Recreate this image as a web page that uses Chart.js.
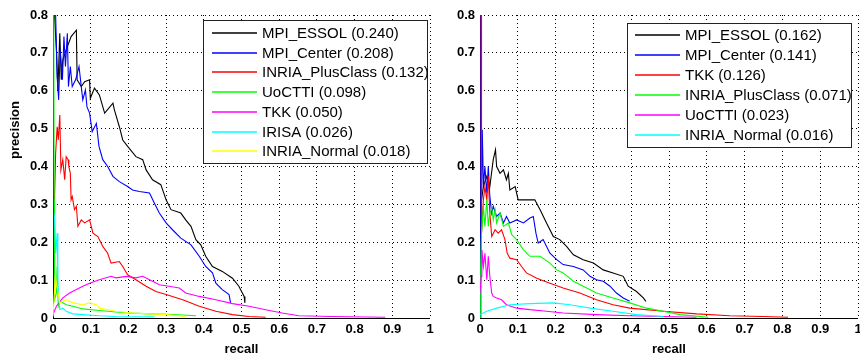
<!DOCTYPE html>
<html>
<head>
<meta charset="utf-8">
<script src="https://cdn.jsdelivr.net/npm/chart.js@4.4.1/dist/chart.umd.min.js"></script>
<style>
  html, body { margin: 0; padding: 0; background: #fff; overflow: hidden; }
  #wrap { position: relative; width: 860px; height: 357px; }
  #leftBox { position: absolute; left: 0; top: 0; width: 445px; height: 357px; }
  #rightBox { position: absolute; left: 430px; top: 0; width: 440px; height: 357px; }
</style>
</head>
<body>
<div id="wrap">
  <div id="leftBox"><canvas id="graficoEsq"></canvas></div>
  <div id="rightBox"><canvas id="graficoDir"></canvas></div>
</div>
<script>
// ---- left plot ----
const leftLabels = ['MPI_ESSOL (0.240)', 'MPI_Center (0.208)', 'INRIA_PlusClass (0.132)', 'UoCTTI (0.098)', 'TKK (0.050)', 'IRISA (0.026)', 'INRIA_Normal (0.018)'];
const leftColors = ['#000000', '#0000ff', '#ff0000', '#00ff00', '#ff00ff', '#00ffff', '#ffff00'];

const lEssolR = [0.004, 0.009, 0.013, 0.018, 0.022, 0.026, 0.035, 0.048, 0.062, 0.064, 0.075, 0.084, 0.097, 0.099, 0.110, 0.123, 0.137, 0.159, 0.163, 0.176, 0.185, 0.198, 0.220, 0.238, 0.247, 0.264, 0.286, 0.300, 0.313, 0.339, 0.352, 0.366, 0.379, 0.392, 0.405, 0.423, 0.449, 0.476, 0.493, 0.507, 0.509];
const lEssolP = [0.80, 0.708, 0.602, 0.752, 0.629, 0.681, 0.708, 0.743, 0.760, 0.629, 0.611, 0.624, 0.629, 0.580, 0.607, 0.589, 0.541, 0.567, 0.549, 0.505, 0.470, 0.453, 0.426, 0.418, 0.391, 0.365, 0.352, 0.312, 0.286, 0.277, 0.259, 0.242, 0.207, 0.193, 0.163, 0.136, 0.123, 0.105, 0.084, 0.057, 0.040];

const lCenterR = [0.007, 0.011, 0.015, 0.019, 0.025, 0.029, 0.033, 0.038, 0.041, 0.046, 0.051, 0.060, 0.069, 0.075, 0.079, 0.086, 0.090, 0.097, 0.104, 0.115, 0.122, 0.132, 0.145, 0.159, 0.176, 0.198, 0.211, 0.229, 0.256, 0.269, 0.282, 0.300, 0.317, 0.339, 0.366, 0.388, 0.405, 0.423, 0.432, 0.449, 0.467, 0.471];
const lCenterP = [0.80, 0.637, 0.576, 0.708, 0.629, 0.743, 0.664, 0.752, 0.611, 0.664, 0.611, 0.629, 0.664, 0.611, 0.576, 0.602, 0.558, 0.541, 0.492, 0.514, 0.453, 0.418, 0.400, 0.374, 0.360, 0.347, 0.338, 0.334, 0.330, 0.303, 0.277, 0.251, 0.233, 0.211, 0.193, 0.163, 0.136, 0.119, 0.092, 0.075, 0.062, 0.040];

const lPlusR = [0.004, 0.007, 0.011, 0.014, 0.018, 0.021, 0.026, 0.031, 0.035, 0.040, 0.042, 0.046, 0.048, 0.051, 0.057, 0.062, 0.066, 0.075, 0.084, 0.097, 0.106, 0.119, 0.132, 0.145, 0.154, 0.176, 0.185, 0.198, 0.220, 0.247, 0.273, 0.300, 0.344, 0.388, 0.432, 0.476, 0.520, 0.564];
const lPlusP = [0.312, 0.435, 0.505, 0.470, 0.536, 0.391, 0.418, 0.365, 0.426, 0.418, 0.400, 0.382, 0.312, 0.321, 0.286, 0.295, 0.242, 0.259, 0.251, 0.259, 0.224, 0.215, 0.189, 0.171, 0.145, 0.149, 0.136, 0.114, 0.101, 0.084, 0.070, 0.062, 0.048, 0.031, 0.018, 0.009, 0.004, 0.002];

const lUoR = [0.002, 0.003, 0.004, 0.009, 0.011, 0.014, 0.018, 0.026, 0.035, 0.053, 0.079, 0.123, 0.167, 0.211, 0.256, 0.300, 0.344, 0.379];
const lUoP = [0.80, 0.312, 0.048, 0.066, 0.136, 0.031, 0.044, 0.040, 0.035, 0.031, 0.024, 0.020, 0.016, 0.013, 0.011, 0.010, 0.008, 0.006];

const lTkkR = [0.000, 0.009, 0.026, 0.044, 0.062, 0.079, 0.097, 0.123, 0.154, 0.167, 0.194, 0.220, 0.238, 0.264, 0.282, 0.308, 0.335, 0.352, 0.388, 0.432, 0.476, 0.520, 0.564, 0.608, 0.652, 0.740, 0.881];
const lTkkP = [0.009, 0.031, 0.053, 0.066, 0.075, 0.084, 0.092, 0.101, 0.110, 0.106, 0.110, 0.106, 0.110, 0.097, 0.088, 0.084, 0.079, 0.066, 0.057, 0.048, 0.038, 0.031, 0.022, 0.013, 0.006, 0.004, 0.002];

const lIrisaR = [0.004, 0.007, 0.011, 0.013, 0.018, 0.026, 0.035, 0.053, 0.079, 0.123, 0.167, 0.269];
const lIrisaP = [0.273, 0.171, 0.224, 0.092, 0.022, 0.026, 0.018, 0.011, 0.009, 0.006, 0.004, 0.003];

const lNormR = [0.000, 0.006, 0.018, 0.035, 0.053, 0.079, 0.097, 0.115, 0.123, 0.167, 0.211, 0.256, 0.300, 0.352];
const lNormP = [0.004, 0.110, 0.040, 0.048, 0.040, 0.035, 0.040, 0.035, 0.026, 0.018, 0.013, 0.011, 0.009, 0.004];

// ---- right plot ----
const rightLabels = ['MPI_ESSOL (0.162)', 'MPI_Center (0.141)', 'TKK (0.126)', 'INRIA_PlusClass (0.071)', 'UoCTTI (0.023)', 'INRIA_Normal (0.016)'];
const rightColors = ['#000000', '#0000ff', '#ff0000', '#00ff00', '#ff00ff', '#00ffff'];

const rEssolR = [0.000, 0.004, 0.009, 0.018, 0.026, 0.035, 0.041, 0.044, 0.053, 0.062, 0.070, 0.075, 0.079, 0.093, 0.101, 0.123, 0.145, 0.159, 0.176, 0.194, 0.211, 0.229, 0.247, 0.273, 0.300, 0.326, 0.352, 0.379, 0.392, 0.414, 0.432, 0.439];
const rEssolP = [0.066, 0.312, 0.347, 0.374, 0.347, 0.418, 0.444, 0.400, 0.382, 0.391, 0.365, 0.382, 0.338, 0.347, 0.312, 0.312, 0.312, 0.286, 0.251, 0.215, 0.207, 0.189, 0.167, 0.154, 0.145, 0.127, 0.119, 0.110, 0.084, 0.070, 0.053, 0.044];

const rCenterR = [0.001, 0.002, 0.004, 0.006, 0.009, 0.013, 0.018, 0.022, 0.026, 0.031, 0.035, 0.044, 0.053, 0.062, 0.070, 0.079, 0.097, 0.115, 0.132, 0.141, 0.148, 0.154, 0.167, 0.185, 0.203, 0.220, 0.247, 0.273, 0.291, 0.308, 0.326, 0.344, 0.361, 0.379, 0.396];
const rCenterP = [0.000, 0.800, 0.312, 0.497, 0.347, 0.400, 0.330, 0.400, 0.321, 0.277, 0.295, 0.268, 0.277, 0.251, 0.268, 0.251, 0.259, 0.251, 0.264, 0.268, 0.224, 0.198, 0.207, 0.171, 0.154, 0.141, 0.136, 0.127, 0.110, 0.101, 0.097, 0.084, 0.066, 0.053, 0.044];

const rTkkR = [0.003, 0.004, 0.009, 0.013, 0.018, 0.022, 0.026, 0.031, 0.040, 0.048, 0.057, 0.066, 0.072, 0.079, 0.097, 0.110, 0.123, 0.150, 0.185, 0.220, 0.264, 0.308, 0.352, 0.396, 0.485, 0.573, 0.661, 0.749, 0.815];
const rTkkP = [0.800, 0.224, 0.312, 0.347, 0.312, 0.374, 0.277, 0.215, 0.233, 0.224, 0.233, 0.207, 0.171, 0.158, 0.154, 0.136, 0.119, 0.105, 0.092, 0.079, 0.066, 0.048, 0.035, 0.026, 0.018, 0.011, 0.006, 0.004, 0.002];

const rPlusR = [0.000, 0.002, 0.004, 0.009, 0.013, 0.018, 0.022, 0.026, 0.031, 0.035, 0.040, 0.044, 0.053, 0.062, 0.075, 0.084, 0.097, 0.115, 0.132, 0.159, 0.185, 0.203, 0.220, 0.247, 0.273, 0.308, 0.352, 0.396, 0.441, 0.485, 0.529, 0.604];
const rPlusP = [0.000, 0.136, 0.224, 0.295, 0.242, 0.312, 0.242, 0.277, 0.290, 0.259, 0.286, 0.251, 0.277, 0.242, 0.251, 0.220, 0.207, 0.180, 0.163, 0.163, 0.145, 0.127, 0.119, 0.097, 0.084, 0.066, 0.053, 0.040, 0.026, 0.018, 0.009, 0.002];

const rUoR = [0.000, 0.003, 0.005, 0.009, 0.013, 0.018, 0.022, 0.026, 0.031, 0.035, 0.044, 0.057, 0.070, 0.097, 0.132, 0.176, 0.220, 0.308, 0.396, 0.485, 0.573];
const rUoP = [0.066, 0.110, 0.180, 0.136, 0.171, 0.101, 0.163, 0.110, 0.066, 0.057, 0.053, 0.048, 0.035, 0.026, 0.022, 0.018, 0.013, 0.009, 0.006, 0.004, 0.002];

const rNormR = [0.000, 0.018, 0.044, 0.079, 0.132, 0.194, 0.238, 0.291, 0.352, 0.414, 0.485];
const rNormP = [0.009, 0.018, 0.026, 0.035, 0.038, 0.040, 0.035, 0.026, 0.018, 0.009, 0.004];

const xTicks = [0, 0.1, 0.2, 0.3, 0.4, 0.5, 0.6, 0.7, 0.8, 0.9, 1];
const yTicks = [0, 0.1, 0.2, 0.3, 0.4, 0.5, 0.6, 0.7, 0.8];

const FONT = 'Arial, "Liberation Sans", sans-serif';

function pares(rs, ps) {
  return rs.map((r, i) => ({ x: r, y: ps[i] }));
}

function montaDatasets(labels, colors, series) {
  return series.map((s, i) => ({
    label: labels[i],
    data: pares(s[0], s[1]),
    borderColor: colors[i],
    backgroundColor: colors[i],
    borderWidth: 1.1,
    pointRadius: 0,
    showLine: true,
    tension: 0,
    order: series.length - i
  }));
}

// legenda desenhada dentro da área (estilo MATLAB)
const legendaBox = {
  id: 'legendaBox',
  afterDraw(chart, args, opts) {
    const ctx = chart.ctx;
    const b = opts.box;
    ctx.save();
    ctx.setLineDash([]);
    ctx.fillStyle = '#fff';
    ctx.fillRect(b.x, b.y, b.w, b.h);
    ctx.strokeStyle = '#222';
    ctx.lineWidth = 1;
    ctx.strokeRect(b.x + 0.5, b.y + 0.5, b.w, b.h);
    ctx.font = '15px ' + FONT;
    ctx.textBaseline = 'middle';
    const cores = opts.colors;
    opts.labels.forEach((txt, i) => {
      const y = Math.round(b.y0 + i * b.step);
      ctx.strokeStyle = cores[i];
      ctx.lineWidth = 1.4;
      ctx.beginPath();
      ctx.moveTo(b.lx0, y);
      ctx.lineTo(b.lx1, y);
      ctx.stroke();
      ctx.fillStyle = '#000';
      ctx.fillText(txt, b.tx, y + 1);
    });
    ctx.restore();
  }
};

const tituloY = {
  id: 'tituloY',
  afterDraw(chart, args, opts) {
    if (!opts.text) return;
    const ctx = chart.ctx;
    ctx.save();
    ctx.translate(opts.x, opts.y);
    ctx.rotate(-Math.PI / 2);
    ctx.font = 'bold 13px ' + FONT;
    ctx.fillStyle = '#000';
    ctx.textAlign = 'center';
    ctx.textBaseline = 'middle';
    ctx.fillText(opts.text, 0, 0);
    ctx.restore();
  }
};

// eixos sólidos à esquerda e embaixo (a grade fica pontilhada)
const eixos = {
  id: 'eixos',
  beforeDatasetsDraw(chart) {
    const a = chart.chartArea;
    const ctx = chart.ctx;
    ctx.save();
    ctx.setLineDash([]);
    ctx.strokeStyle = '#000';
    ctx.lineWidth = 1;
    ctx.beginPath();
    ctx.moveTo(Math.round(a.left) + 0.5, a.top);
    ctx.lineTo(Math.round(a.left) + 0.5, Math.round(a.bottom) + 0.5);
    ctx.lineTo(a.right, Math.round(a.bottom) + 0.5);
    ctx.stroke();
    ctx.restore();
  }
};

function opcoes(yWidth, padRight, legenda, yTitle) {
  const fonteTick = { family: FONT, size: 13, weight: 'bold' };
  return {
    responsive: true,
    maintainAspectRatio: false,
    animation: false,
    layout: { padding: { top: 15, right: padRight, bottom: 0, left: 0 } },
    plugins: {
      legend: { display: false },
      tooltip: { enabled: false },
      legendaBox: legenda,
      tituloY: yTitle
    },
    scales: {
      x: {
        type: 'linear',
        min: 0, max: 1,
        afterBuildTicks: (s) => { s.ticks = xTicks.map(v => ({ value: v })); },
        afterFit: (s) => { s.height = 39; },
        ticks: { color: '#000', font: fonteTick, padding: 4, maxRotation: 0, callback: (v) => String(v) },
        grid: { color: '#000', lineWidth: 1, drawTicks: false },
        border: { display: false, dash: [1, 3] },
        title: { display: true, text: 'recall', color: '#000', font: fonteTick, padding: { top: 0, bottom: 0 } }
      },
      y: {
        type: 'linear',
        min: 0, max: 0.8,
        afterBuildTicks: (s) => { s.ticks = yTicks.map(v => ({ value: v })); },
        afterFit: (s) => { s.width = yWidth; },
        ticks: { color: '#000', font: fonteTick, padding: 5, callback: (v) => String(v) },
        grid: { color: '#000', lineWidth: 1, drawTicks: false },
        border: { display: false, dash: [1, 3] }
      }
    }
  };
}

document.addEventListener('DOMContentLoaded', function () {
  const ctxEsq = document.getElementById('graficoEsq');
  if (ctxEsq) {
    new Chart(ctxEsq, {
      type: 'scatter',
      data: {
        datasets: montaDatasets(leftLabels, leftColors, [
          [lEssolR, lEssolP], [lCenterR, lCenterP], [lPlusR, lPlusP], [lUoR, lUoP],
          [lTkkR, lTkkP], [lIrisaR, lIrisaP], [lNormR, lNormP]
        ])
      },
      options: opcoes(53, 15,
        { labels: leftLabels, colors: leftColors,
          box: { x: 203, y: 20, w: 224, h: 143, y0: 33, step: 19.7, lx0: 212, lx1: 257, tx: 262 } },
        { text: 'precision', x: 15, y: 130 }),
      plugins: [eixos, legendaBox, tituloY]
    });
  }

  const ctxDir = document.getElementById('graficoDir');
  if (ctxDir) {
    new Chart(ctxDir, {
      type: 'scatter',
      data: {
        datasets: montaDatasets(rightLabels, rightColors, [
          [rEssolR, rEssolP], [rCenterR, rCenterP], [rTkkR, rTkkP],
          [rPlusR, rPlusP], [rUoR, rUoP], [rNormR, rNormP]
        ])
      },
      options: opcoes(50, 12,
        { labels: rightLabels, colors: rightColors,
          box: { x: 197, y: 23, w: 224, h: 124, y0: 35, step: 20, lx0: 205, lx1: 250, tx: 255 } },
        { text: '' }),
      plugins: [eixos, legendaBox, tituloY]
    });
  }
});
</script>
</body>
</html>
